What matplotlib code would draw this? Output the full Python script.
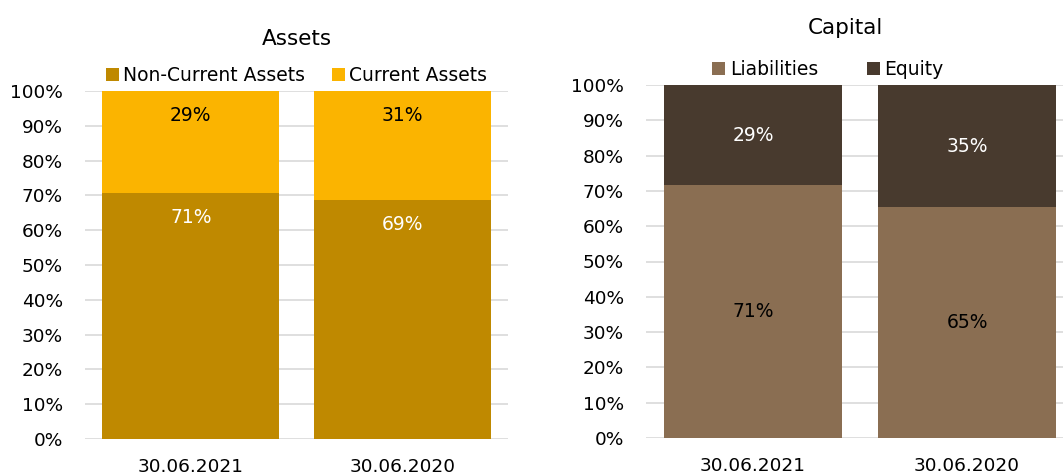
import numpy as np
import matplotlib.pyplot as plt
from matplotlib.ticker import PercentFormatter

plt.rcParams['font.family'] = ['DejaVu Sans']

dates = ['30.06.2021', '30.06.2020']
non_current = [70.7, 68.7]
current = [29.3, 31.3]
liabilities = [71.6, 65.4]
equity = [28.4, 34.6]
pct_labels_assets = [['71%', '69%'], ['29%', '31%']]
pct_labels_capital = [['71%', '65%'], ['29%', '35%']]

W, H = 1063, 475
fig = plt.figure(figsize=(W / 100, H / 100), dpi=100)


def make_axes(x0, x1, ybot, ytop):
    return fig.add_axes([x0 / W, (H - ybot) / H, (x1 - x0) / W, (ybot - ytop) / H])


def style(ax):
    ax.set_ylim(0, 100)
    ax.set_xlim(-0.5, 1.5)
    ax.set_yticks(np.arange(0, 101, 10))
    ax.yaxis.set_major_formatter(PercentFormatter(decimals=0))
    ax.grid(axis='y', color='#d9d9d9', linewidth=1.2)
    ax.set_axisbelow(True)
    for s in ax.spines.values():
        s.set_visible(False)
    ax.tick_params(length=0, labelsize=13.3)
    ax.tick_params(axis='y', pad=16)
    ax.tick_params(axis='x', pad=14)
    ax.set_xticks(range(len(dates)))
    ax.set_xticklabels(dates)


x = np.arange(len(dates))
leg_kw = dict(loc='lower center', ncol=2, frameon=False, fontsize=13.5,
              handlelength=0.7, handleheight=0.7, handletextpad=0.25, borderpad=0)

# Assets
ax1 = make_axes(85, 508, 439, 91)
ax1.bar(x, non_current, width=0.837, color='#bf8900', label='Non-Current Assets')
ax1.bar(x, current, width=0.837, bottom=non_current, color='#fbb400', label='Current Assets')
style(ax1)
for i in x:
    ax1.text(i, non_current[i] - 4.2, pct_labels_assets[0][i], ha='center', va='top',
             color='white', fontsize=13.5)
    ax1.text(i, 100 - 4.2, pct_labels_assets[1][i], ha='center', va='top',
             color='black', fontsize=13.5)
ax1.set_title('Assets', fontsize=15.5, pad=33)
ax1.legend(bbox_to_anchor=(0.5, 0.99), columnspacing=1.4, **leg_kw)

# Capital
ax2 = make_axes(646, 1074, 438, 85)
ax2.bar(x, liabilities, width=0.83, color='#8a6e52', label='Liabilities')
ax2.bar(x, equity, width=0.83, bottom=liabilities, color='#483a2e', label='Equity')
style(ax2)
for i in x:
    ax2.text(i, liabilities[i] / 2, pct_labels_capital[0][i], ha='center', va='center',
             color='black', fontsize=13.5)
    ax2.text(i, liabilities[i] + equity[i] / 2, pct_labels_capital[1][i], ha='center',
             va='center', color='white', fontsize=13.5)
ax2.set_title('Capital', fontsize=15.5, pad=37, x=0.465)
ax2.legend(bbox_to_anchor=(0.425, 0.99), columnspacing=2.6, **leg_kw)

fig.savefig('out.png', dpi=100)
